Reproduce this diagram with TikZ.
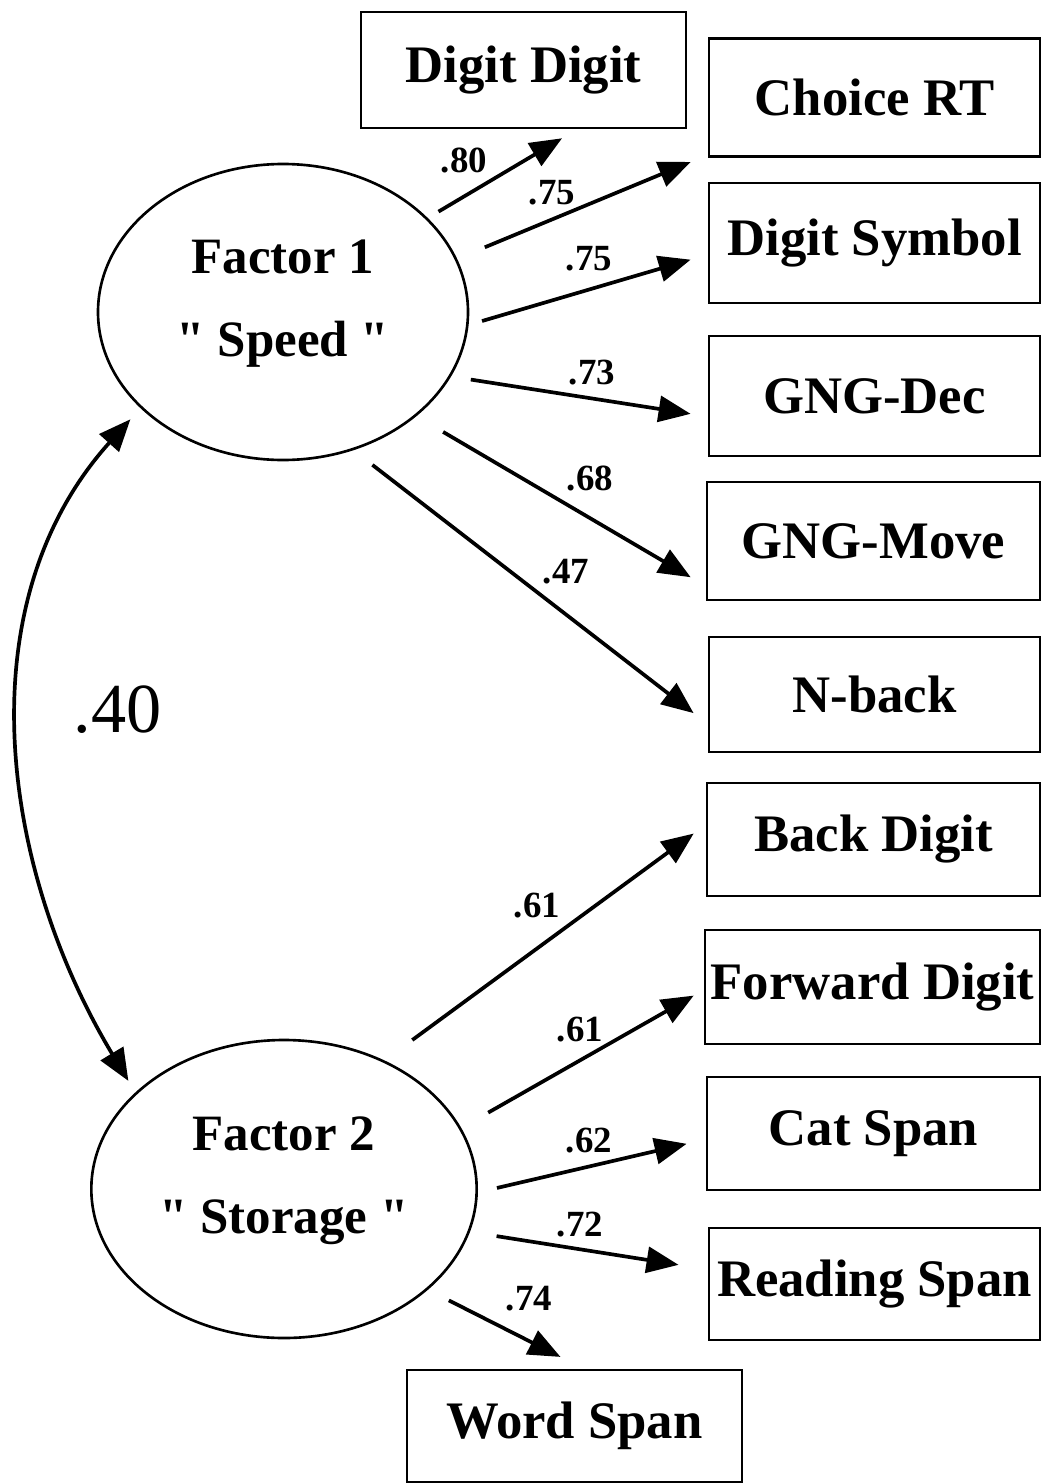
\documentclass[tikz,border=0pt]{standalone}
\usepackage{fontspec}
\setmainfont{Liberation Serif}[Ligatures=TeXOff]
\usetikzlibrary{arrows.meta, shapes.geometric}

\begin{document}
\begin{tikzpicture}[
    measure/.style={draw, line width=0.8pt, minimum width=3.31cm, minimum height=1.18cm, inner sep=0pt, font=\bfseries\fontsize{15}{18}\selectfont},
    factor/.style={draw, ellipse, line width=0.75pt, minimum width=3.70cm, minimum height=2.96cm, align=center, text depth=8pt, font=\bfseries\fontsize{14.5}{23.5}\selectfont},
    loading/.style={line width=1.05pt, -{Triangle[length=0.32cm, width=0.26cm]}},
    corr/.style={line width=1.05pt, {Triangle[length=0.32cm, width=0.26cm]}-{Triangle[length=0.32cm, width=0.26cm]}},
    weight/.style={inner sep=0pt, font=\bfseries\fontsize{10.5}{12}\selectfont}
]
    \useasboundingbox (0,0) rectangle (10.42,-14.84);

    % Draw latent factors
    \node[factor] (f1) at (2.83,-3.12) {Factor 1\\" Speed "};
    \node[factor, minimum width=3.72cm, minimum height=2.98cm] (f2) at (2.84,-11.89) {Factor 2\\" Storage "};

    % Draw observed measures
    \node[measure, minimum width=3.25cm, minimum height=1.16cm] (dd) at (5.235,-0.70) {Digit Digit};
    \node[measure] (cr) at (8.745,-0.975) {Choice RT};
    \node[measure, minimum height=1.20cm] (ds) at (8.745,-2.43) {Digit Symbol};
    \node[measure, minimum height=1.20cm] (gd) at (8.745,-3.96) {GNG-Dec};
    \node[measure, minimum width=3.33cm] (gm) at (8.735,-5.41) {GNG-Move};
    \node[measure, minimum height=1.15cm] (nb) at (8.745,-6.945) {N-back};
    \node[measure, minimum width=3.33cm, minimum height=1.13cm] (bd) at (8.735,-8.395) {Back Digit};
    \node[measure, minimum width=3.35cm, minimum height=1.14cm] (fd) at (8.725,-9.87) {Forward Digit};
    \node[measure, minimum width=3.33cm, minimum height=1.13cm] (cs) at (8.735,-11.335) {Cat Span};
    \node[measure, minimum height=1.12cm] (rs) at (8.745,-12.84) {Reading Span};
    \node[measure, minimum width=3.35cm, minimum height=1.12cm] (ws) at (5.745,-14.26) {Word Span};

    % Draw loadings of factor 1
    \draw[loading, shorten <=0.125cm, shorten >=0.174cm] (f1.33) -- (dd.-48);
    \draw[loading, shorten <=0.30cm, shorten >=0.183cm] (f1.17.7) -- (cr.199.5);
    \draw[loading, shorten <=0.14cm, shorten >=0.177cm] (f1.-4) -- (ds.184.9);
    \draw[loading, shorten <=0.20cm, shorten >=0.172cm] (f1.-21.3) -- (gd.187.8);
    \draw[loading, shorten <=0.31cm, shorten >=0.173cm] (f1.-38.6) -- (gm.195);
    \draw[loading, shorten <=0.24cm, shorten >=0.177cm] (f1.-63.3) -- (nb.190.4);

    % Draw loadings of factor 2
    \draw[loading, shorten <=0.345cm, shorten >=0.148cm] (f2.52.3) -- (bd.175.8);
    \draw[loading, shorten <=0.31cm, shorten >=0.114cm] (f2.19.8) -- (fd.181.2);
    \draw[loading, shorten <=0.195cm, shorten >=0.195cm] (f2.-1) -- (cs.182.2);
    \draw[loading, shorten <=0.27cm, shorten >=0.294cm] (f2.-13.5) -- (rs.175.4);
    \draw[loading, shorten <=0.235cm, shorten >=0.259cm] (f2.-35) -- (ws.81.5);

    % Add loading values
    \node[weight] (w1) at (4.64,-1.60) {.80};
    \node[weight] (w2) at (5.52,-1.93) {.75};
    \node[weight] (w3) at (5.89,-2.59) {.75};
    \node[weight] (w4) at (5.92,-3.73) {.73};
    \node[weight] (w5) at (5.90,-4.78) {.68};
    \node[weight] (w6) at (5.66,-5.72) {.47};
    \node[weight] (w7) at (5.37,-9.06) {.61};
    \node[weight] (w8) at (5.80,-10.30) {.61};
    \node[weight] (w9) at (5.89,-11.41) {.62};
    \node[weight] (w10) at (5.80,-12.25) {.72};
    \node[weight] (w11) at (5.29,-12.99) {.74};

    % Add factor correlation
    \draw[corr, shorten <=0.15cm, shorten >=0.135cm] (f1.214.5) to[out=228, in=121, looseness=0.98] (f2.147.1);
    \node[inner sep=0pt, font=\fontsize{20}{24}\selectfont] (r12) at (1.175,-7.10) {.40};
\end{tikzpicture}
\end{document}
